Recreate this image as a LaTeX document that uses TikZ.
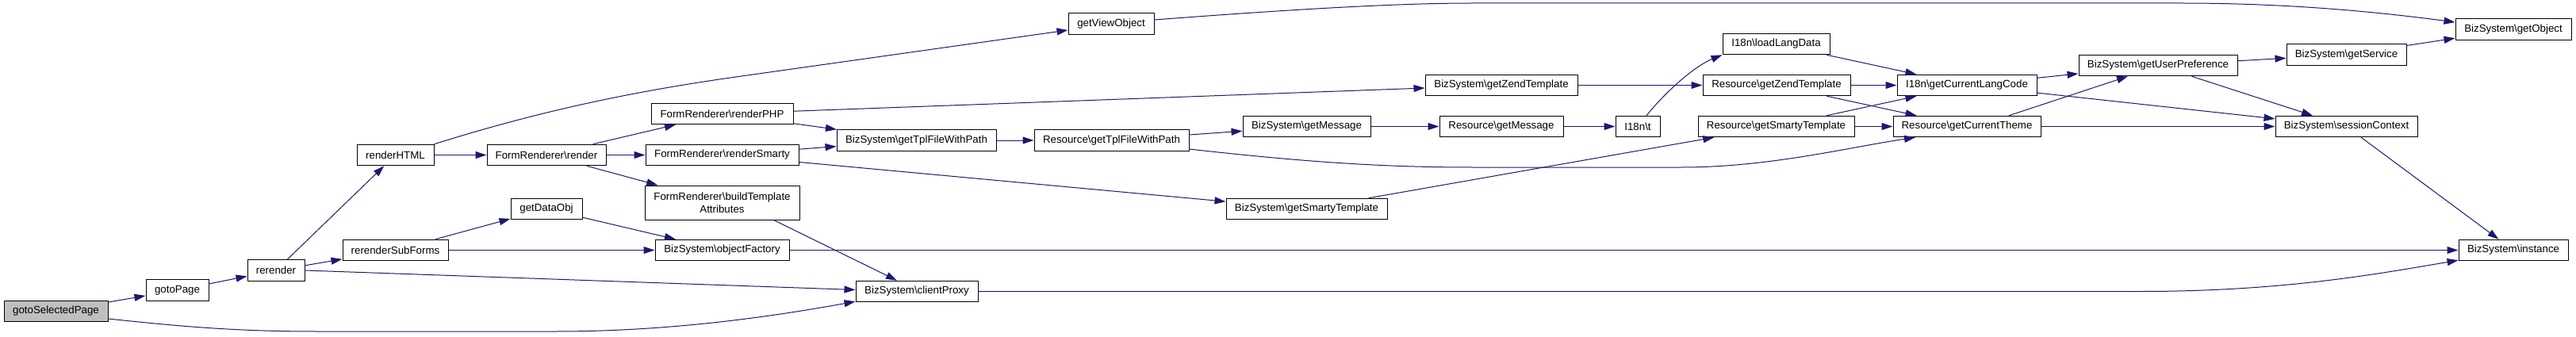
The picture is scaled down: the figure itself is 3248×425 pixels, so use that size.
\documentclass[tikz,border=0pt]{standalone}
\usepackage{fontspec}
\setmainfont{Liberation Sans}
\usetikzlibrary{arrows.meta}
\definecolor{edgeblue}{HTML}{191970}
\definecolor{nodegray}{HTML}{BFBFBF}
\newcommand\bsl{\textbackslash}
\begin{document}
\begin{tikzpicture}[x=1pt,y=-1pt,
  box/.style={draw=black, line width=1pt, fill=white, inner sep=0pt,
    minimum height=26.5pt, font=\fontsize{13.3}{16}\selectfont, align=center},
  edge/.style={draw=edgeblue, line width=1pt, -{Triangle[length=14pt,width=9pt]}}]
\useasboundingbox (0,0) rectangle (3248,425);
\fill[white] (0,0) rectangle (3248,425);

% nodes
\node[box, fill=nodegray, minimum width=131pt] (gsp) at (70.5,392.5) {gotoSelectedPage};
\node[box, minimum width=79pt]  (gp)    at (223.5,366)   {gotoPage};
\node[box, minimum width=72pt]  (rr)    at (348,341)     {rerender};
\node[box, minimum width=97pt]  (rh)    at (498.5,195.5) {renderHTML};
\node[box, minimum width=133pt] (rsf)   at (498.5,315.5) {rerenderSubForms};
\node[box, minimum width=150pt] (fr)    at (689,195.5)   {FormRenderer\bsl render};
\node[box, minimum width=90pt]  (gdo)   at (689,263.5)   {getDataObj};
\node[box, minimum width=179pt] (rphp)  at (910.5,143.5) {FormRenderer\bsl renderPHP};
\node[box, minimum width=193pt] (rs)    at (910.5,195.5) {FormRenderer\bsl renderSmarty};
\node[box, minimum width=195pt, minimum height=43pt] (bta) at (910.5,255.5) {FormRenderer\bsl buildTemplate\\Attributes};
\node[box, minimum width=169pt] (of)    at (910.5,315.5) {BizSystem\bsl objectFactory};
\node[box, minimum width=154pt] (cp)    at (1156,367.5)  {BizSystem\bsl clientProxy};
\node[box, minimum width=108pt] (gvo)   at (1401,30)     {getViewObject};
\node[box, minimum width=201pt] (bgtfp) at (1155.5,177)  {BizSystem\bsl getTplFileWithPath};
\node[box, minimum width=195pt] (rgtfp) at (1401.5,177)  {Resource\bsl getTplFileWithPath};
\node[box, minimum width=161pt] (bgm)   at (1647.5,159.5) {BizSystem\bsl getMessage};
\node[box, minimum width=203pt] (bgst)  at (1647.5,263.5) {BizSystem\bsl getSmartyTemplate};
\node[box, minimum width=192pt] (gzt)   at (1893,107.5)  {BizSystem\bsl getZendTemplate};
\node[box, minimum width=156pt] (rgm)   at (1893,159.5)  {Resource\bsl getMessage};
\node[box, minimum width=56pt]  (t)     at (2065,159.5)  {I18n\bsl t};
\node[box, minimum width=135pt] (lld)   at (2239.5,55.5) {I18n\bsl loadLangData};
\node[box, minimum width=186pt] (rgzt)  at (2240,107.5)  {Resource\bsl getZendTemplate};
\node[box, minimum width=197pt] (rgst)  at (2239.5,159.5) {Resource\bsl getSmartyTemplate};
\node[box, minimum width=176pt] (glc)   at (2480,107.5)  {I18n\bsl getCurrentLangCode};
\node[box, minimum width=186pt] (rct)   at (2480,159.5)  {Resource\bsl getCurrentTheme};
\node[box, minimum width=200pt] (gup)   at (2721,82.5)   {BizSystem\bsl getUserPreference};
\node[box, minimum width=151pt] (gs)    at (2958.5,69)   {BizSystem\bsl getService};
\node[box, minimum width=146pt] (go)    at (3169,37)     {BizSystem\bsl getObject};
\node[box, minimum width=179pt] (sc)    at (2958.5,159.5) {BizSystem\bsl sessionContext};
\node[box, minimum width=138pt] (bi)    at (3169,315.5)  {BizSystem\bsl instance};

% edges
\draw[edge] (gsp) -- (gp);
\draw[edge] ([yshift=-9.5pt]gsp.east) .. controls (230,412) and (300,418) .. (400,418)
   -- (700,418) .. controls (850,418) and (980,398) .. ([yshift=1pt]cp.south west);
\draw[edge] (gp) -- (rr);
\draw[edge] (rr) -- (rh);
\draw[edge] (rr) -- (rsf);
\draw[edge] (rr.east) -- ([yshift=2pt]cp.west);
\draw[edge] (rh) -- (fr);
\draw[edge] (rh.north east) .. controls (680,140) and (800,115) .. (928,97) -- ([yshift=-8pt]gvo.west);
\draw[edge] (fr) -- (rphp);
\draw[edge] (fr) -- (rs);
\draw[edge] (fr) -- (bta);
\draw[edge] (rsf) -- (gdo);
\draw[edge] (rsf) -- (of);
\draw[edge] (gdo) -- (of);
\draw[edge] (rphp) -- (gzt);
\draw[edge] (rphp) -- (bgtfp);
\draw[edge] (rs) -- (bgtfp);
\draw[edge] (rs) -- (bgst);
\draw[edge] ([xshift=65pt]bta.south) -- ([xshift=-25pt]cp.north);
\draw[edge] (of) -- (bi);
\draw[edge] (cp.east) -- (2700,367.5) .. controls (2880,367.5) and (3000,345) .. ([yshift=1pt]bi.south west);
\draw[edge] ([yshift=5pt]gvo.east) .. controls (1600,14) and (1750,4) .. (1856,4)
   -- (2750,4) .. controls (2880,4) and (2990,14) .. ([yshift=9pt]go.west);
\draw[edge] (bgtfp) -- (rgtfp);
\draw[edge] (rgtfp) -- (bgm);
\draw[edge] ([yshift=-11pt]rgtfp.east) .. controls (1650,205) and (1750,211) .. (1856,211)
   -- (2120,211) .. controls (2230,211) and (2330,186) .. ([xshift=-65pt]rct.south);
\draw[edge] (bgm) -- (rgm);
\draw[edge] (bgst) -- (rgst);
\draw[edge] (gzt) -- (rgzt);
\draw[edge] (rgm) -- (t);
\draw[edge] ([xshift=11pt]t.north) .. controls (2105,110) and (2140,82) .. (lld.south west);
\draw[edge] (rgzt) -- (glc);
\draw[edge] (rgzt) -- (rct);
\draw[edge] (rgst) -- (glc);
\draw[edge] (rgst) -- (rct);
\draw[edge] (lld) -- (glc);
\draw[edge] (glc) -- (gup);
\draw[edge] (glc) -- (sc);
\draw[edge] ([xshift=53pt]rct.north) -- ([xshift=-38pt]gup.south);
\draw[edge] (rct) -- (sc);
\draw[edge] (gup) -- (gs);
\draw[edge] (gup) -- (sc);
\draw[edge] (gs) -- (go);
\draw[edge] (sc) -- (bi);
\end{tikzpicture}
\end{document}
